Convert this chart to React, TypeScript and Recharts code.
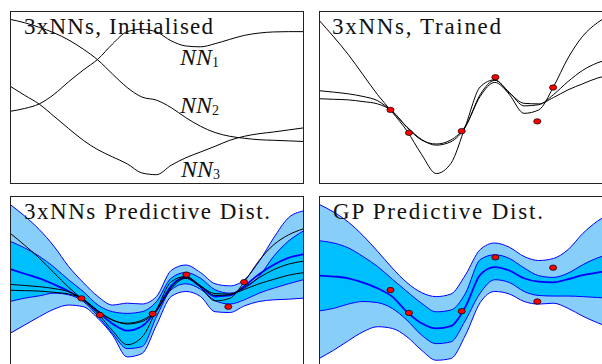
import React from "react";
import { ComposedChart, Line, Area, Scatter, XAxis, YAxis } from "recharts";

// shared x grid for every curve
const xs = [0, 0.5, 1, 1.5, 2, 2.5, 3, 3.5, 4, 4.5, 5, 5.5, 6, 6.5, 7, 7.5, 8, 8.5, 9, 9.5, 10];

// panel 1: untrained nets
const initNN1 = [-0.5, -0.4, -0.24, 0.09, 0.53, 0.94, 1.32, 1.85, 2.28, 2.36, 2.27, 1.96, 1.78, 1.75, 1.86, 2.01, 2.15, 2.23, 2.27, 2.28, 2.28];
const initNN2 = [2.71, 2.59, 2.43, 2.24, 1.99, 1.67, 1.29, 0.8, 0.33, 0.0, -0.11, -0.37, -0.72, -1.02, -1.24, -1.37, -1.44, -1.49, -1.51, -1.53, -1.55];
const initNN3 = [0.38, 0.06, -0.25, -0.67, -1.1, -1.51, -1.84, -2.09, -2.33, -2.65, -2.71, -2.38, -2.12, -1.92, -1.72, -1.51, -1.37, -1.28, -1.22, -1.15, -1.08];

// panel 2 + 3: trained nets
const trainedNN1 = [2.68, 2.1, 1.48, 0.78, 0.08, -0.53, -1.18, -2.0, -2.67, -2.32, -1.01, 0.35, 0.6, 0.08, -0.57, -0.45, 0.35, 1.36, 2.12, 2.59, 2.88];
const trainedNN2 = [0.22, 0.17, 0.11, 0.02, -0.13, -0.51, -1.04, -1.48, -1.68, -1.56, -1.04, 0.08, 0.58, 0.16, -0.31, -0.27, 0.08, 0.54, 0.93, 1.19, 1.33];
const trainedNN3 = [-0.06, -0.08, -0.1, -0.16, -0.24, -0.49, -1.06, -1.5, -1.64, -1.5, -1.01, 0.02, 0.51, 0.13, -0.22, -0.24, -0.02, 0.25, 0.46, 0.66, 0.78];

// panel 3: ensemble predictive distribution
const ensOuterHi = [4.06, 3.5, 2.85, 2.05, 1.08, 0.31, -0.36, -0.77, -0.68, -0.72, -0.36, 0.89, 1.15, 0.79, 0.25, 0.15, 0.44, 1.32, 2.45, 3.41, 3.74];
const ensInnerHi = [2.29, 1.97, 1.57, 1.05, 0.44, -0.12, -0.77, -1.09, -1.17, -1.09, -0.6, 0.52, 0.79, 0.52, -0.04, -0.2, 0.04, 0.6, 1.57, 2.29, 2.77];
const ensMean = [0.96, 0.73, 0.51, 0.22, -0.11, -0.51, -1.09, -1.67, -2.0, -1.79, -1.02, 0.15, 0.55, 0.12, -0.36, -0.31, 0.14, 0.71, 1.16, 1.49, 1.66];
const ensInnerLo = [-0.6, -0.44, -0.33, -0.2, -0.28, -0.6, -1.3, -2.13, -2.86, -2.77, -1.33, -0.04, 0.25, -0.01, -0.56, -0.72, -0.52, -0.2, 0.04, 0.25, 0.44];
const ensOuterLo = [-2.13, -1.73, -1.33, -0.97, -0.77, -0.85, -1.41, -2.21, -3.26, -3.1, -1.73, -0.36, -0.12, -0.36, -1.09, -1.13, -0.81, -0.6, -0.52, -0.49, -0.44];

// panel 4: GP predictive distribution
const gpOuterHi = [2.54, 2.27, 1.92, 1.45, 0.9, 0.32, -0.19, -0.54, -0.68, -0.59, 0.08, 0.96, 1.19, 1.04, 0.72, 0.58, 0.65, 0.96, 1.52, 1.95, 2.25];
const gpInnerHi = [1.27, 1.19, 1.02, 0.72, 0.37, -0.07, -0.5, -0.91, -1.21, -1.15, -0.56, 0.61, 0.78, 0.65, 0.32, 0.05, -0.01, 0.14, 0.43, 0.67, 0.82];
const gpMean = [0.05, 0.02, -0.04, -0.19, -0.39, -0.68, -1.21, -1.61, -1.79, -1.71, -1.03, 0.08, 0.35, 0.23, -0.04, -0.16, -0.18, -0.07, 0.07, 0.16, 0.23];
const gpInnerLo = [-1.18, -1.09, -0.94, -0.85, -0.89, -1.09, -1.5, -2.02, -2.32, -2.26, -1.5, -0.56, -0.09, -0.19, -0.5, -0.64, -0.66, -0.66, -0.68, -0.71, -0.74];
const gpOuterLo = [-2.84, -2.55, -2.22, -1.91, -1.73, -1.79, -2.08, -2.55, -2.9, -2.84, -2.02, -0.89, -0.5, -0.59, -0.85, -0.94, -0.91, -1.09, -1.36, -1.59, -1.79];

// observations (red dots)
const obsX = [2.44, 3.07, 4.87, 6.02, 7.45, 7.99];
const obsY = [-0.45, -1.25, -1.19, 0.69, -0.85, 0.33];

const titles = ["3xNNs, Initialised", "3xNNs, Trained", "3xNNs Predictive Dist.", "GP Predictive Dist."];

const rowsInit = xs.map((x, i) => ({ x, a: initNN1[i], b: initNN2[i], c: initNN3[i] }));
const rowsTrained = xs.map((x, i) => ({ x, t1: trainedNN1[i], t2: trainedNN2[i], t3: trainedNN3[i] }));
const rowsEns = xs.map((x, i) => ({
  x,
  t1: trainedNN1[i],
  t2: trainedNN2[i],
  t3: trainedNN3[i],
  mean: ensMean[i],
  outer: [ensOuterLo[i], ensOuterHi[i]],
  inner: [ensInnerLo[i], ensInnerHi[i]],
}));
const rowsGp = xs.map((x, i) => ({
  x,
  mean: gpMean[i],
  outer: [gpOuterLo[i], gpOuterHi[i]],
  inner: [gpInnerLo[i], gpInnerHi[i]],
}));
const points = obsX.map((x, i) => ({ x, y: obsY[i] }));

const W = 293;
const H = 172;
const FONT =
  '"Liberation Serif", "DejaVu Serif", "Times New Roman", Times, "Noto Serif", FreeSerif, Tinos, serif';

const Dot = (props: any) => (
  <ellipse cx={props.cx} cy={props.cy} rx={3.6} ry={2.7} fill="#ff0000" stroke="#000" strokeWidth={0.7} />
);

const blackLine = (key: string) => (
  <Line key={key} dataKey={key} type="monotone" stroke="#000" strokeWidth={1} dot={false} activeDot={false} isAnimationActive={false} />
);

const bands = () => [
  <Area key="outer" dataKey="outer" type="monotone" fill="#87cefa" fillOpacity={1} stroke="#0000ff" strokeWidth={1} dot={false} activeDot={false} isAnimationActive={false} />,
  <Area key="inner" dataKey="inner" type="monotone" fill="#00bfff" fillOpacity={1} stroke="#0000ff" strokeWidth={1} dot={false} activeDot={false} isAnimationActive={false} />,
  <Line key="mean" dataKey="mean" type="monotone" stroke="#0000ff" strokeWidth={1.8} dot={false} activeDot={false} isAnimationActive={false} />,
];

const dots = () => (
  <Scatter key="obs" data={points} dataKey="y" shape={<Dot />} isAnimationActive={false} />
);

function Panel({ left, top, data, yDomain, children }: any) {
  return (
    <>
      <div style={{ position: "absolute", left, top, width: W, height: H }}>
        <ComposedChart width={W} height={H} data={data} margin={{ top: 0, right: 0, bottom: 0, left: 0 }}>
          <XAxis type="number" dataKey="x" domain={[0, 10]} hide />
          <YAxis type="number" domain={yDomain} hide allowDataOverflow />
          {children}
        </ComposedChart>
      </div>
      <div
        style={{
          position: "absolute",
          left,
          top,
          width: W + 1,
          height: H + 1,
          border: "1px solid #222",
          boxSizing: "border-box",
          pointerEvents: "none",
        }}
      />
    </>
  );
}

export default function App() {
  return (
    <div style={{ position: "fixed", left: 0, top: 0, width: 602, height: 364, overflow: "hidden", background: "#fff" }}>
      <Panel left={10} top={11} data={rowsInit} yDomain={[-3, 3]}>
        {["a", "b", "c"].map(blackLine)}
      </Panel>
      <Panel left={319} top={11} data={rowsTrained} yDomain={[-3, 3]}>
        {["t1", "t2", "t3"].map(blackLine)}
        {dots()}
      </Panel>
      <Panel left={10} top={196} data={rowsEns} yDomain={[-3.79, 4.46]}>
        {bands()}
        {["t1", "t2", "t3"].map(blackLine)}
        {dots()}
      </Panel>
      <Panel left={319} top={196} data={rowsGp} yDomain={[-3.17, 2.83]}>
        {bands()}
        {dots()}
      </Panel>
      <svg width={602} height={364} style={{ position: "absolute", left: 0, top: 0, pointerEvents: "none", fontFamily: FONT }}>
        <g fontSize={23} fill="#111">
          <text x={24} y={34} textLength={189} lengthAdjust="spacing">{titles[0]}</text>
          <text x={332} y={34} textLength={169} lengthAdjust="spacing">{titles[1]}</text>
          <text x={24} y={219} textLength={246} lengthAdjust="spacing">{titles[2]}</text>
          <text x={333} y={219} textLength={210} lengthAdjust="spacing">{titles[3]}</text>
        </g>
        <g fill="#111">
          <text x={180} y={65} fontSize={24} fontStyle="italic">
            NN<tspan fontStyle="normal" fontSize={14} dy={2}>1</tspan>
          </text>
          <text x={180} y={113} fontSize={24} fontStyle="italic">
            NN<tspan fontStyle="normal" fontSize={14} dy={2}>2</tspan>
          </text>
          <text x={181} y={177} fontSize={24} fontStyle="italic">
            NN<tspan fontStyle="normal" fontSize={14} dy={2}>3</tspan>
          </text>
        </g>
      </svg>
    </div>
  );
}
